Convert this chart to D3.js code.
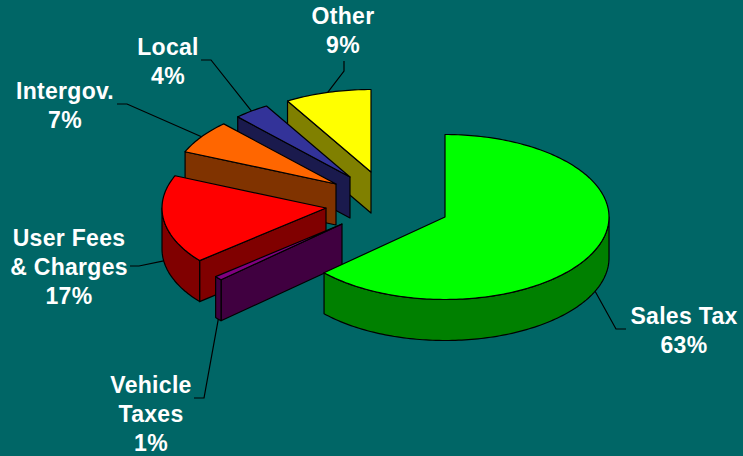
<!DOCTYPE html>
<html>
<head>
<meta charset="utf-8">
<script src="https://cdn.jsdelivr.net/npm/d3@7/dist/d3.min.js"></script>
<style>
  html, body { margin: 0; padding: 0; background: #006666; }
  svg { display: block; }
  text { font-family: "Liberation Sans", Arial, sans-serif; font-weight: 700; font-size: 23px; fill: #fff; letter-spacing: 0.3px; }
</style>
</head>
<body>
<svg id="chart" width="743" height="456"></svg>
<script>
// Revenue shares, in percent, clockwise from twelve o'clock.
const categories = ["Sales Tax", "Vehicle Taxes", "User Fees & Charges", "Intergov.", "Local", "Other"];
const shares = [63.2, 0.8, 17.4, 6.6, 3.5, 8.5];
const topColors = ["#00ff00", "#800080", "#ff0000", "#ff6600", "#333399", "#ffff00"];
const labelLines = [["Sales Tax"], ["Vehicle", "Taxes"], ["User Fees", "& Charges"], ["Intergov."], ["Local"], ["Other"]];

// Layout: pie projection and how far each wedge is pulled from the centre.
const width = 743, height = 456;
const center = { x: 445, y: 217 };
const rx = 164, ry = 82.5, depth = 41;
const explode = [[0, 0], [-103, 7], [-119, -9], [-109, -33], [-95, -40], [-74, -45]];
const labelBox = [[684, 324], [151, 393], [69, 246], [65, 99], [168, 55], [343, 24]];
const lineHeight = 29;
const leaderKnee = [[[616, 329], [626, 329]], [[204, 398], [194, 398]], [[139, 266], [130, 266]],
                    [[127, 104], [117, 104]], [[211, 60], [201, 60]], [[344, 71], [344, 61]]];

const svg = d3.select("#chart");
svg.append("rect").attr("width", width).attr("height", height).attr("fill", "#006666");

const pie = d3.pie().sort(null).value(d => d);
const slices = pie(shares).map((s, i) => ({
  ...s,
  i,
  ox: center.x + explode[i][0],
  oy: center.y + explode[i][1]
}));

const project = (s, a, z = 0) => [s.ox + rx * Math.sin(a), s.oy - ry * Math.cos(a) + z];
const line = d3.line();
const half = c => { const r = d3.rgb(c); return d3.rgb(r.r / 2, r.g / 2, r.b / 2).formatHex(); };

function arcPoints(s, a0, a1, z) {
  const n = Math.max(2, Math.ceil(Math.abs(a1 - a0) / 0.02));
  return d3.range(n + 1).map(k => project(s, a0 + (a1 - a0) * k / n, z));
}

function polygon(g, pts, fill) {
  g.append("path")
    .attr("d", line(pts) + "Z")
    .attr("fill", fill)
    .attr("stroke", "#000")
    .attr("stroke-width", 1.2)
    .attr("stroke-linejoin", "round");
}

function radialWall(g, s, a, fill) {
  polygon(g, [[s.ox, s.oy], project(s, a), project(s, a, depth), [s.ox, s.oy + depth]], fill);
}

// Leader lines sit beneath the wedges, running from the rim at each wedge's middle angle.
const leaders = svg.append("g");
slices.forEach(s => {
  const mid = (s.startAngle + s.endAngle) / 2;
  const front = Math.cos(mid) < 0.01;
  const start = project(s, mid, front ? depth : 0);
  leaders.append("path")
    .attr("d", line([start, ...leaderKnee[s.i]]))
    .attr("fill", "none")
    .attr("stroke", "#000")
    .attr("stroke-width", 1.2);
});

// Painter's order: rear wedges first, the large front wedge last.
const drawOrder = [5, 4, 3, 2, 1, 0];
drawOrder.forEach(i => {
  const s = slices[i];
  const g = svg.append("g").attr("class", "wedge");
  const top = topColors[i], wall = half(top);
  const a0 = s.startAngle, a1 = s.endAngle;

  if (Math.sin(a0) < 0) radialWall(g, s, a0, wall);
  if (Math.sin(a1) > 0) radialWall(g, s, a1, wall);

  // Outer rim only shows on the viewer-facing half of the ellipse.
  const from = Math.max(a0, Math.PI / 2), to = Math.min(a1, 3 * Math.PI / 2);
  if (to > from) {
    polygon(g, [...arcPoints(s, from, to, 0), ...arcPoints(s, to, from, depth)], wall);
  }

  polygon(g, [[s.ox, s.oy], ...arcPoints(s, a0, a1, 0)], top);
});

// Category names with the rounded share on the last line.
slices.forEach(s => {
  const [x, y] = labelBox[s.i];
  const rows = [...labelLines[s.i], Math.round(s.data) + "%"];
  svg.append("text")
    .attr("text-anchor", "middle")
    .attr("x", x).attr("y", y)
    .selectAll("tspan").data(rows).join("tspan")
    .attr("x", x)
    .attr("y", (d, k) => y + k * lineHeight)
    .text(d => d);
});
</script>
</body>
</html>
